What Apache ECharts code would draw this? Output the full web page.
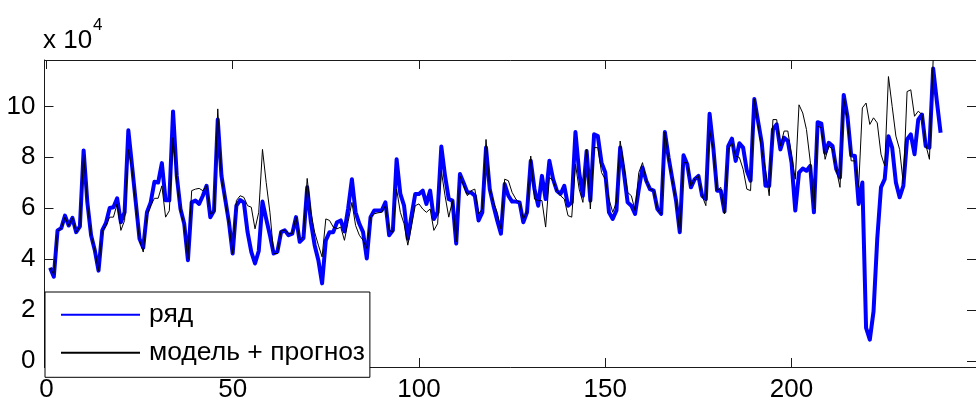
<!DOCTYPE html>
<html>
<head>
<meta charset="utf-8">
<script src="https://cdn.jsdelivr.net/npm/echarts@6/dist/echarts.min.js"></script>
<style>
html, body { margin: 0; padding: 0; background: #ffffff; }
#chart { width: 976px; height: 403px; }
</style>
</head>
<body>
<div id="chart"></div>
<script>
// Series names shown in the legend
const seriesNames = ['ряд', 'модель + прогноз'];

// Observed series, one value per step (step 1 .. 240)
const observed = [
  36600, 33100, 51300, 52200, 57100, 53200, 56200, 50600, 52900, 82700,
  62300, 49400, 43500, 35500, 51300, 54200, 60100, 60400, 63900, 54500,
  58400, 90600, 76600, 62300, 48000, 44500, 58400, 62300, 70400, 70100,
  77700, 63100, 63100, 98000, 72700, 59700, 53900, 39600, 62300, 63000,
  61700, 64900, 68800, 56500, 59000, 94800, 72700, 63600, 54500, 42200,
  61000, 63200, 62300, 50600, 42900, 38300, 43200, 62600, 55800, 49400,
  42200, 42900, 50600, 51300, 49400, 50000, 56500, 46800, 48300, 68200,
  54500, 45500, 39600, 30500, 47400, 50600, 50600, 54500, 55200, 50900,
  60000, 71400, 58400, 53900, 50600, 40300, 56500, 59100, 59100, 59100,
  62300, 49400, 51300, 79200, 65600, 61000, 48000, 57100, 65600, 65600,
  66900, 61700, 66900, 55800, 58400, 84200, 72700, 63600, 63000, 46100,
  73400, 69900, 66200, 66200, 64900, 55200, 58400, 83800, 67500, 61000,
  55200, 50000, 69500, 64900, 62600, 62600, 62300, 54500, 58400, 78600,
  67500, 61000, 72700, 63600, 78600, 71400, 66900, 65600, 68800, 61000,
  62300, 89900, 74000, 64900, 82500, 63000, 89000, 88300, 77900, 74000,
  58400, 55800, 59100, 83800, 74000, 62300, 61000, 57800, 67500, 76000,
  70800, 67500, 66900, 59700, 57800, 89900, 79900, 71400, 63000, 50600,
  80800, 77300, 68200, 71400, 72700, 64900, 63600, 97100, 83800, 66900,
  66900, 58700, 84400, 87300, 78600, 85500, 83800, 74700, 70800, 102900,
  94200, 85700, 68800, 68800, 90900, 92900, 83100, 87700, 86400, 77900,
  59100, 74000, 75600, 74700, 76600, 58400, 93800, 93200, 81800, 85700,
  84400, 75300, 72100, 104500, 96100, 80800, 80500, 61700, 70100, 13000,
  8400, 19500, 48100, 68200, 71400, 88300, 83800, 70100, 64300, 68800,
  87000, 89000, 81200, 94800, 96800, 84400, 83800, 114900, 101900, 89600
];

// Model fit followed by the forecast (step 1 .. 238)
const modelForecast = [
  36600, 34000, 51000, 52200, 56500, 53200, 56200, 50600, 52900, 81000,
  62300, 49400, 43500, 35500, 51000, 53200, 56500, 56500, 61700, 51300,
  55200, 83000, 75500, 61000, 47500, 42800, 57000, 61000, 63900, 63900,
  68800, 56500, 59000, 87700, 71000, 59000, 53000, 40000, 66900, 67500,
  67800, 66900, 68800, 57800, 58400, 99000, 72000, 63000, 54000, 42200,
  63000, 64900, 64300, 61000, 60400, 51900, 58400, 83100, 70100, 58400,
  42200, 42200, 51300, 51300, 50000, 50000, 56500, 47500, 49000, 71700,
  58400, 50600, 45500, 40900, 55800, 55200, 52600, 51900, 52600, 47400,
  54800, 62300, 53200, 49400, 47400, 44200, 56500, 57800, 58200, 58400,
  61000, 51300, 50600, 67500, 58400, 53900, 45500, 53000, 61000, 61700,
  59700, 58400, 59700, 51300, 53900, 74700, 64900, 56500, 63000, 46800,
  72700, 68800, 64900, 66900, 67500, 57800, 59700, 87000, 67500, 62300,
  58400, 51900, 71400, 70800, 66200, 63600, 62300, 55800, 58400, 80500,
  63600, 63000, 63000, 52600, 72100, 70800, 66900, 64900, 63600, 57100,
  56500, 77300, 67500, 62300, 83100, 59700, 83800, 83800, 74000, 71400,
  63600, 58400, 62300, 86400, 76600, 66200, 64900, 59100, 74000, 77900,
  70800, 67500, 66900, 59700, 57800, 89900, 79200, 70800, 63000, 50600,
  77900, 77900, 68800, 71400, 72700, 64900, 61000, 90900, 83100, 66900,
  68200, 57800, 83100, 85500, 80500, 79900, 75300, 67500, 66900, 102900,
  92900, 83100, 75300, 64900, 94800, 94800, 84400, 90300, 90300, 80500,
  71400, 100600, 97400, 90900, 78600, 59700, 92200, 91600, 79200, 84400,
  83100, 75300, 68200, 103200, 94800, 78600, 78600, 68200, 99400, 101300,
  92900, 95500, 93500, 81200, 76600, 111700, 100000, 88300, 83100, 69500,
  105800, 106500, 96100, 98100, 96800, 85100, 79200, 118200
];

// Axis ticks
const xTickValues = [0, 50, 100, 150, 200];
const yTickValues = [0, 20000, 40000, 60000, 80000, 100000];

const toPairs = arr => arr.map((v, k) => [k + 1, v]);

const FONT = '"Liberation Sans", Arial, Helvetica, sans-serif';
const AXIS_COLOR = '#1a1a1a';
const LABEL_SIZE = 26;

const chart = echarts.init(document.getElementById('chart'), null, { renderer: 'canvas' });

const xBase = {
  type: 'value',
  min: -0.5,
  max: 249.5,
  splitLine: { show: false },
  axisLine: { show: true, onZero: false, lineStyle: { color: AXIS_COLOR, width: 1 } },
  axisTick: { show: true, inside: true, length: 9, customValues: xTickValues, lineStyle: { color: AXIS_COLOR } }
};
const yBase = {
  type: 'value',
  min: -2340,
  max: 118200,
  splitLine: { show: false },
  axisLine: { show: true, onZero: false, lineStyle: { color: AXIS_COLOR, width: 1 } },
  axisTick: { show: true, inside: true, length: 9, customValues: yTickValues, lineStyle: { color: AXIS_COLOR } }
};

chart.setOption({
  animation: false,
  backgroundColor: '#ffffff',
  textStyle: { fontFamily: FONT },
  grid: { left: 44.5, top: 60, width: 940, height: 309.3, containLabel: false },
  xAxis: [
    Object.assign({}, xBase, {
      position: 'bottom',
      axisLabel: {
        show: true, inside: false, margin: 10, customValues: xTickValues,
        color: '#000', fontSize: LABEL_SIZE, fontFamily: FONT
      }
    }),
    Object.assign({}, xBase, { position: 'top', axisLabel: { show: false } })
  ],
  yAxis: [
    Object.assign({}, yBase, {
      position: 'left',
      axisLabel: {
        show: true, inside: false, margin: 9, customValues: yTickValues,
        color: '#000', fontSize: LABEL_SIZE, fontFamily: FONT,
        formatter: v => String(Math.round(v / 10000))
      }
    }),
    Object.assign({}, yBase, { position: 'right', axisLabel: { show: false } })
  ],
  legend: {
    orient: 'vertical',
    left: 45,
    top: 292,
    padding: [8.7, 5, 10.6, 15],
    itemGap: 10,
    itemWidth: 79,
    itemHeight: 14,
    backgroundColor: '#ffffff',
    borderColor: '#000000',
    borderWidth: 1,
    borderRadius: 0,
    itemStyle: { opacity: 0, borderWidth: 0 },
    textStyle: { color: '#000', fontSize: 26.5, fontFamily: FONT, lineHeight: 24, padding: [0, 0, 4, 4] },
    data: [seriesNames[0], seriesNames[1]]
  },
  graphic: [
    {
      type: 'text', left: 43, top: 28, silent: true,
      style: { text: 'x 10', fontSize: 26, fontFamily: FONT, fill: '#000' }
    },
    {
      type: 'text', left: 93, top: 17, silent: true,
      style: { text: '4', fontSize: 17, fontFamily: FONT, fill: '#000' }
    }
  ],
  series: [
    {
      name: seriesNames[0],
      type: 'line',
      data: toPairs(observed),
      symbol: 'none',
      lineStyle: { color: '#0000ff', width: 4, join: 'round' },
      itemStyle: { color: '#0000ff' },
      z: 2
    },
    {
      name: seriesNames[1],
      type: 'line',
      data: toPairs(modelForecast),
      symbol: 'none',
      lineStyle: { color: '#000000', width: 1 },
      itemStyle: { color: '#000000' },
      z: 3
    }
  ]
});
</script>
</body>
</html>
